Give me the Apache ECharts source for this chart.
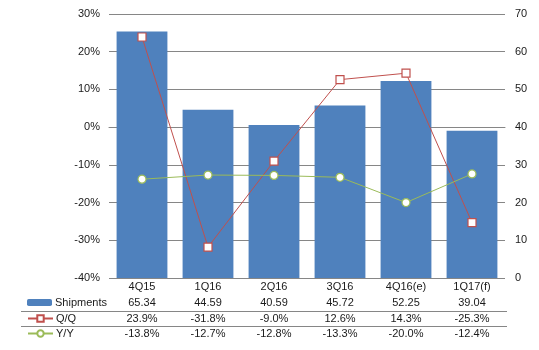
<!DOCTYPE html>
<html><head><meta charset="utf-8">
<script src="https://cdn.jsdelivr.net/npm/echarts@6/dist/echarts.min.js"></script>
<style>html,body{margin:0;padding:0;background:#fff}#c{width:539px;height:350px}</style>
</head><body><div id="c"></div>
<script>
const categories = ['4Q15','1Q16','2Q16','3Q16','4Q16(e)','1Q17(f)'];
const shipments = [65.34, 44.59, 40.59, 45.72, 52.25, 39.04];
const qoq = [23.9, -31.8, -9.0, 12.6, 14.3, -25.3];
const yoy = [-13.8, -12.7, -12.8, -13.3, -20.0, -12.4];
const leftTicks = {min: -40, max: 30, step: 10};
const rightTicks = {min: 0, max: 70, step: 10};

const FONT = 'Liberation Sans, Arial, sans-serif';
const TXT = '#1a1a1a';
const BLUE = '#4F81BD', RED = '#C0504D', GREEN = '#9BBB59';
const chart = echarts.init(document.getElementById('c'), null, {renderer:'canvas'});

function rowAxis(labels, margin){
  return {type:'category', data:labels, position:'bottom', gridIndex:0,
    axisLine:{show:false}, axisTick:{show:false}, splitLine:{show:false},
    axisLabel:{margin:margin, color:TXT, fontFamily:FONT, fontSize:11, interval:0}};
}
const fmtPct = v => v.toFixed(1) + '%';

const option = {
  animation:false,
  grid:{left:109, right:34, top:14, bottom:72, containLabel:false},
  xAxis:[
    {type:'category', data:categories, position:'bottom',
     axisLine:{show:true, lineStyle:{color:'#868686', width:1}}, axisTick:{show:false},
     axisLabel:{margin:3, color:TXT, fontFamily:FONT, fontSize:11, interval:0}},
    rowAxis(shipments.map(v=>v.toFixed(2)), 19),
    rowAxis(qoq.map(fmtPct), 35),
    rowAxis(yoy.map(fmtPct), 50)
  ],
  yAxis:[
    {type:'value', min:leftTicks.min, max:leftTicks.max, interval:leftTicks.step,
     axisLine:{show:false}, axisTick:{show:false},
     splitLine:{show:true, lineStyle:{color:'#868686', width:1}},
     axisLabel:{formatter:v=>v+'%', margin:9, color:TXT, fontFamily:FONT, fontSize:11}},
    {type:'value', min:rightTicks.min, max:rightTicks.max, interval:rightTicks.step, position:'right',
     axisLine:{show:false}, axisTick:{show:false}, splitLine:{show:false},
     axisLabel:{margin:10, color:TXT, fontFamily:FONT, fontSize:11}}
  ],
  legend:[
    {data:['Shipments'], left:27, top:297, itemWidth:25, itemHeight:7, itemGap:0, padding:0,
     textStyle:{color:TXT, fontFamily:FONT, fontSize:11, padding:[0,0,0,-2]}},
    {data:['Q/Q'], left:27, top:313, itemWidth:25, itemHeight:8, padding:0,
     textStyle:{color:TXT, fontFamily:FONT, fontSize:11, padding:[0,0,0,-2]}},
    {data:['Y/Y'], left:27, top:328, itemWidth:25, itemHeight:8, padding:0,
     textStyle:{color:TXT, fontFamily:FONT, fontSize:11, padding:[0,0,0,-2]}}
  ],
  series:[
    {name:'Shipments', type:'bar', yAxisIndex:1, data:shipments, barWidth:'77%',
     itemStyle:{color:BLUE}},
    {name:'Q/Q', type:'line', yAxisIndex:0, data:qoq, symbol:'rect', symbolSize:8,
     lineStyle:{color:RED, width:1}, itemStyle:{color:'#fff', borderColor:RED, borderWidth:1.2}, z:5},
    {name:'Y/Y', type:'line', yAxisIndex:0, data:yoy, symbol:'circle', symbolSize:8,
     lineStyle:{color:GREEN, width:1}, itemStyle:{color:'#fff', borderColor:GREEN, borderWidth:1.2}, z:5}
  ],
  graphic:[
    {type:'line', shape:{x1:21, y1:311.5, x2:507, y2:311.5}, style:{stroke:'#868686', lineWidth:1}},
    {type:'line', shape:{x1:21, y1:326.5, x2:507, y2:326.5}, style:{stroke:'#868686', lineWidth:1}}
  ]
};
chart.setOption(option);
</script></body></html>
